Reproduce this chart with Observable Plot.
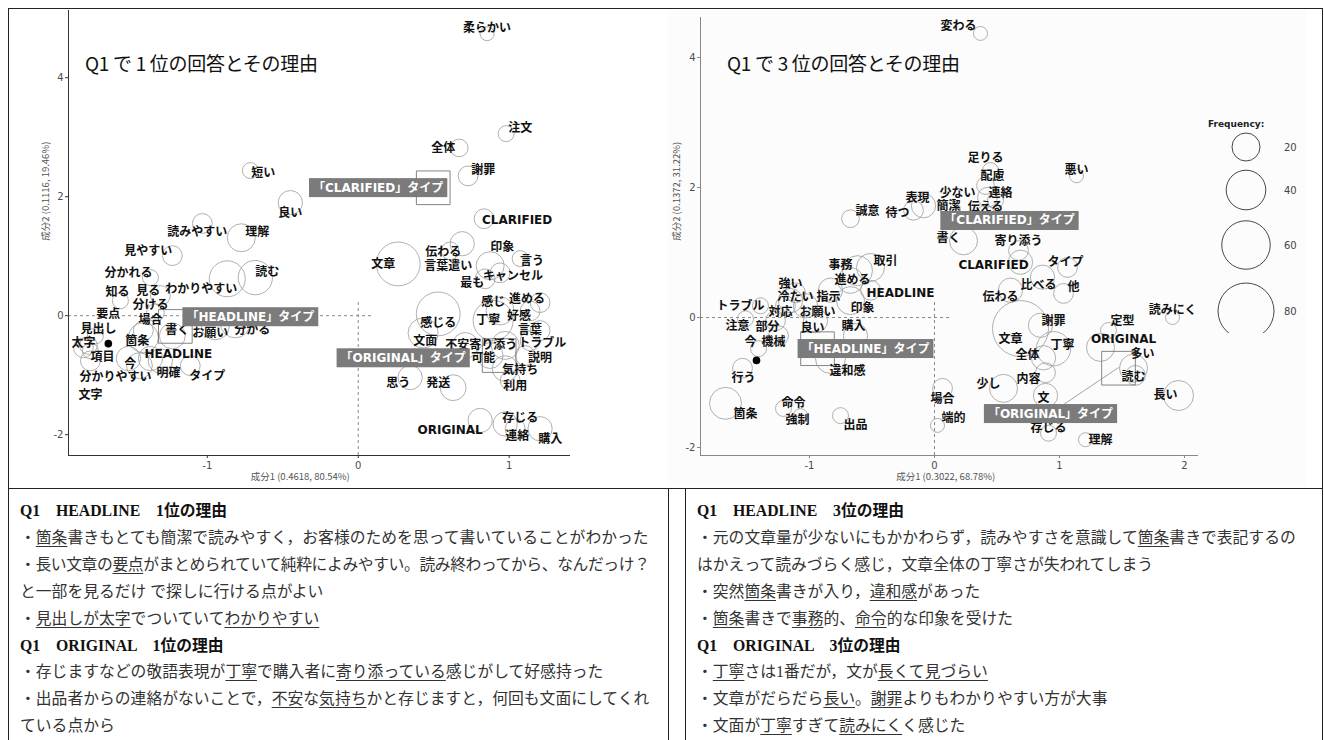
<!DOCTYPE html>
<html><head><meta charset="utf-8">
<script src="https://cdn.jsdelivr.net/npm/d3@7"></script>
<script src="https://cdn.jsdelivr.net/npm/@observablehq/plot@0.6"></script>
<style>
body{margin:0;background:#fff;}
#page{position:relative;width:1324px;height:740px;overflow:hidden;font-family:'Noto Sans CJK JP',sans-serif;background:#fff;}
#topbox{position:absolute;left:8px;top:8px;width:1315px;height:481px;border:1.5px solid #222;box-sizing:border-box;}
#rightbg{position:absolute;left:668px;top:10px;width:638px;height:477px;background:#fcfcfc;}
.chart{position:absolute;top:8px;}
.title{position:absolute;top:49px;font-size:19px;color:#111;white-space:nowrap;letter-spacing:-0.3px;}
.tbox{position:absolute;top:488px;height:260px;border:1.5px solid #222;box-sizing:border-box;padding:9px 0 0 11px;
  font-family:'Liberation Serif','Noto Sans CJK JP',serif;font-size:15.8px;line-height:26.9px;color:#333;white-space:nowrap;}
.tbox b{font-weight:bold;color:#111;}
.tbox u{text-decoration:underline;text-decoration-thickness:1px;text-underline-offset:3px;}
</style></head>
<body><div id="page">
<div id="rightbg"></div>
<div id="topbox"></div>
<div id="left" class="chart" style="left:8px"></div>
<div id="right" class="chart" style="left:668px"></div>
<div class="title" style="left:85px">Q1 で 1 位の回答とその理由</div>
<div class="title" style="left:727px">Q1 で 3 位の回答とその理由</div>
<div class="tbox" style="left:8px;width:661px">
<div><b>Q1　HEADLINE　1位の理由</b></div>
<div>・<u>箇条</u>書きもとても簡潔で読みやすく，お客様のためを思って書いていることがわかった</div>
<div style="letter-spacing:-0.4px">・長い文章の<u>要点</u>がまとめられていて純粋によみやすい。読み終わってから、なんだっけ？</div>
<div>と一部を見るだけ で探しに行ける点がよい</div>
<div>・<u>見出しが太字</u>でついていて<u>わかりやすい</u></div>
<div><b>Q1　ORIGINAL　1位の理由</b></div>
<div>・存じますなどの敬語表現が<u>丁寧</u>で購入者に<u>寄り添っている</u>感じがして好感持った</div>
<div>・出品者からの連絡がないことで，<u>不安</u>な<u>気持ち</u>かと存じますと，何回も文面にしてくれ</div>
<div>ている点から</div>
</div>
<div class="tbox" style="left:685px;width:638px">
<div><b>Q1　HEADLINE　3位の理由</b></div>
<div>・元の文章量が少ないにもかかわらず，読みやすさを意識して<u>箇条</u>書きで表記するの</div>
<div>はかえって読みづらく感じ，文章全体の丁寧さが失われてしまう</div>
<div>・突然<u>箇条</u>書きが入り，<u>違和感</u>があった</div>
<div>・<u>箇条</u>書きで<u>事務</u>的、<u>命令</u>的な印象を受けた</div>
<div><b>Q1　ORIGINAL　3位の理由</b></div>
<div>・<u>丁寧</u>さは1番だが，文が<u>長くて見づらい</u></div>
<div>・文章がだらだら<u>長い</u>。<u>謝罪</u>よりもわかりやすい方が大事</div>
<div>・文面が<u>丁寧</u>すぎて<u>読みにく</u>く感じた</div>
</div>
</div>
<script>
// ---------- Left chart (Q1 1位) ----------
const leftWords = ["柔らかい","注文","全体","謝罪","CLARIFIED","印象","短い","良い","読みやすい","理解","見やすい","読む","わかりやすい","分かれる","知る","見る","分ける","要点","場合","見出し","書く","お願い","分かる","太字","箇条","項目","HEADLINE","今","分かりやすい","明確","タイプ","文字",
 "文章","伝わる","言葉遣い","言う","キャンセル","最も","感じる","感じ","進める","丁寧","好感","言葉","文面","不安","寄り添う","トラブル","説明","可能","気持ち","利用","思う","発送","ORIGINAL","存じる","連絡","購入"];
const leftX = [0.854,0.980,0.669,0.728,0.834,0.689,-0.715,-0.450,-1.033,-0.775,-1.232,-0.682,-0.868,-1.377,-1.576,-1.311,-1.344,-1.742,-1.424,-1.788,-1.232,-0.947,-0.815,-1.821,-1.424,-1.775,-1.377,-1.523,-1.450,-1.311,-1.113,-1.775,
 0.265,0.609,0.874,1.073,0.940,0.841,0.530,0.940,1.205,0.894,1.139,1.205,0.430,0.709,0.974,1.139,1.106,0.874,0.974,1.007,0.344,0.629,0.808,0.974,1.040,1.205];
const leftY = [4.74,3.06,2.82,2.35,1.63,1.21,2.44,1.90,1.55,1.31,1.01,0.64,0.62,0.64,0.25,0.34,0.05,-0.34,-0.25,-0.50,-0.34,-0.17,-0.12,-0.54,-0.37,-0.59,-0.72,-0.72,-0.84,-0.76,-0.84,-0.76,
 0.87,1.09,0.84,0.96,0.72,0.62,0.03,0.08,0.22,-0.08,0.08,-0.25,-0.29,-0.50,-0.50,-0.42,-0.67,-0.67,-0.89,-1.09,-1.04,-1.21,-1.76,-1.82,-1.90,-1.90];
const leftFreq = [5,6.5,8,10,10,15,6.5,15,10,20,10,30,33,6.5,6.5,10,8,6.5,10,8,17,20,23,10,23,6.5,15,15,17,15,10,10,
 49,8,20,6.5,10,10,49,20,10,41,10,10,23,17,20,10,10,17,17,10,15,17,15,15,10,15];
const leftLabelX = [0.854,1.073,0.563,0.828,1.053,0.954,-0.629,-0.450,-1.066,-0.669,-1.391,-0.603,-1.040,-1.523,-1.596,-1.391,-1.377,-1.656,-1.377,-1.722,-1.199,-0.980,-0.702,-1.821,-1.464,-1.695,-1.192,-1.510,-1.609,-1.258,-1.000,-1.775,
 0.166,0.563,0.596,1.152,1.026,0.755,0.530,0.894,1.119,0.861,1.066,1.139,0.444,0.656,0.894,1.219,1.205,0.828,1.073,1.040,0.265,0.530,0.609,1.073,1.053,1.272];
const leftLabelY = [4.84,3.16,2.81,2.45,1.60,1.16,2.40,1.73,1.41,1.41,1.09,0.74,0.44,0.72,0.39,0.42,0.17,0.02,-0.08,-0.22,-0.25,-0.30,-0.24,-0.47,-0.42,-0.69,-0.64,-0.82,-1.04,-0.97,-1.01,-1.33,
 0.86,1.06,0.84,0.91,0.67,0.55,-0.12,0.22,0.27,-0.08,0.00,-0.24,-0.42,-0.50,-0.50,-0.47,-0.71,-0.72,-0.92,-1.18,-1.14,-1.14,-1.92,-1.73,-2.02,-2.08];
const leftCallText = ["「CLARIFIED」タイプ","「HEADLINE」タイプ","「ORIGINAL」タイプ"];
const leftCallX = [0.132,-0.715,0.298];
const leftCallY = [2.15,-0.02,-0.71];
const leftSquareX = [0.497,-1.212,0.934];
const leftSquareY = [2.15,-0.18,-0.67];
const leftDotX = [-1.656];
const leftDotY = [-0.47];

// ---------- Right chart (Q1 3位) ----------
const rightWords = ["変わる","足りる","配慮","少ない","連絡","表現","簡潔","伝える","待つ","誠意","悪い","書く","寄り添う","CLARIFIED","タイプ","比べる","他","伝わる","読みにく","謝罪","定型","文章","ORIGINAL","丁寧","全体","多い","読む","内容","少し","長い","文","存じる","理解","場合","端的","出品","命令","強制","箇条","行う","違和感","今","機械","注意","部分","良い","購入","トラブル","対応","お願い","印象","強い","冷たい","指示","HEADLINE","事務","進める","取引"];
const rightX = [0.368,0.448,0.408,0.424,0.488,-0.088,0.128,0.408,-0.168,-0.672,1.136,0.232,0.672,0.688,1.064,0.864,1.032,0.608,1.904,0.848,1.392,0.688,1.328,0.952,0.872,1.592,1.608,0.888,0.552,1.952,0.888,0.912,1.208,0.064,0.024,-0.752,-1.208,-1.072,-1.672,-1.536,-0.832,-1.408,-1.248,-1.512,-1.272,-0.952,-0.632,-1.392,-1.192,-1.032,-0.672,-1.112,-1.152,-0.832,-0.512,-0.616,-0.672,-0.512];
const rightY = [4.37,2.26,2.03,1.85,1.80,1.72,1.65,1.57,1.65,1.52,2.18,1.18,1.03,0.85,0.77,0.62,0.37,0.42,0.00,-0.12,-0.20,-0.17,-0.46,-0.48,-0.62,-0.78,-0.89,-0.85,-1.09,-1.20,-1.20,-1.78,-1.88,-1.09,-1.66,-1.51,-1.40,-1.51,-1.32,-0.78,-0.63,-0.48,-0.28,-0.02,-0.05,-0.05,-0.28,0.18,0.18,0.18,0.26,0.38,0.26,0.42,0.42,0.72,0.57,0.77];
const rightFreq = [5,6.5,8,10,6.5,15,10,10,10,8,5,20,10,15,10,15,10,15,5,15,6.5,80,20,30,15,20,10,10,20,23,15,6.5,5,10,5,6.5,6.5,5,26,10,23,6.5,10,6.5,10,15,15,6.5,10,15,20,10,15,15,10,23,17,20];
const rightLabelX = [0.192,0.408,0.464,0.184,0.528,-0.136,0.112,0.408,-0.296,-0.536,1.136,0.112,0.672,0.472,1.048,0.832,1.112,0.528,1.904,0.952,1.504,0.608,1.512,1.024,0.744,1.664,1.592,0.752,0.432,1.848,0.872,0.912,1.328,0.064,0.152,-0.632,-1.128,-1.096,-1.512,-1.528,-0.696,-1.472,-1.288,-1.576,-1.336,-0.976,-0.648,-1.552,-1.232,-0.936,-0.576,-1.152,-1.112,-0.848,-0.272,-0.752,-0.656,-0.392];
const rightLabelY = [4.48,2.45,2.18,1.92,1.92,1.83,1.72,1.69,1.60,1.63,2.26,1.22,1.18,0.80,0.85,0.49,0.46,0.32,0.11,-0.05,-0.06,-0.34,-0.34,-0.43,-0.58,-0.57,-0.92,-0.95,-1.02,-1.20,-1.24,-1.71,-1.89,-1.25,-1.55,-1.65,-1.32,-1.58,-1.48,-0.94,-0.82,-0.38,-0.38,-0.14,-0.15,-0.17,-0.14,0.18,0.08,0.08,0.14,0.52,0.31,0.31,0.37,0.80,0.58,0.86];
const rightCallText = ["「CLARIFIED」タイプ","「HEADLINE」タイプ","「ORIGINAL」タイプ"];
const rightCallX = [0.60,-0.552,0.928];
const rightCallY = [1.49,-0.48,-1.48];
const rightSquareX = [-0.936,1.472];
const rightSquareY = [-0.48,-0.78];
const rightDotX = [-1.424];
const rightDotY = [-0.66];
const rightLinkFrom = [1.024,-1.35];
const rightLinkTo = [1.472,-0.77];
const legendValues = [20,40,60,80];

const labelFont = "'DejaVu Sans', 'Noto Sans CJK JP', sans-serif";

function zipWords(w, x, y, f, lx, ly) {
  return w.map((t, i) => ({w: t, x: x[i], y: y[i], f: f[i], lx: lx[i], ly: ly[i]}));
}
function addCalloutBoxes(svg, texts) {
  svg.querySelectorAll("text").forEach(t => {
    if (!texts.includes(t.textContent)) return;
    const b = t.getBBox();
    const r = document.createElementNS("http://www.w3.org/2000/svg", "rect");
    const h = 19;
    r.setAttribute("x", b.x - 4);
    r.setAttribute("y", b.y + b.height / 2 - h / 2);
    r.setAttribute("width", b.width + 8);
    r.setAttribute("height", h);
    r.setAttribute("fill", "#7b7b7b");
    if (t.getAttribute("transform")) r.setAttribute("transform", t.getAttribute("transform"));
    t.parentNode.insertBefore(r, t);
  });
}
const fmt = d => String(d);

function makeChart(o) {
  const words = zipWords(o.words, o.x, o.y, o.f, o.lx, o.ly);
  const calls = o.callText.map((t, i) => ({t, x: o.callX[i], y: o.callY[i]}));
  const squares = o.sqX.map((x, i) => ({x, y: o.sqY[i]}));
  const dots = o.dotX.map((x, i) => ({x, y: o.dotY[i]}));
  const marks = [
    Plot.ruleY([0], {x1: o.xd[0], x2: o.hEnd, stroke: "#8a8a8a", strokeDasharray: "3,3"}),
    Plot.ruleX([0], {y1: o.yd[0], y2: o.vEnd, stroke: "#8a8a8a", strokeDasharray: "3,3"}),
    Plot.frame({anchor: "left", stroke: o.axisColor}),
    Plot.frame({anchor: "bottom", stroke: o.axisColor}),
    Plot.axisX({ticks: o.xt, tickSize: 3, tickPadding: 3, label: null, tickFormat: fmt, stroke: o.axisColor, fontFamily: "'DejaVu Sans', sans-serif", fontSize: 10}),
    Plot.axisY({ticks: o.yt, tickSize: 3, tickPadding: 2, label: null, tickFormat: fmt, stroke: o.axisColor, fontFamily: "'DejaVu Sans', sans-serif", fontSize: 10}),
    Plot.dot(words, {x: "x", y: "y", r: "f", stroke: "#9c9c9c", strokeWidth: 0.8, fill: "none"}),
    Plot.dot(squares, {x: "x", y: "y", symbol: "square", r: 19, stroke: "#777", strokeWidth: 0.9, fill: "none"}),
    Plot.dot(dots, {x: "x", y: "y", r: 3.8, fill: "#000"}),
    Plot.text(words, {x: "lx", y: "ly", text: "w", fontWeight: "bold", fontSize: 12, fontFamily: labelFont, fill: "#111"})
  ];
  if (o.link) {
    marks.push(Plot.link([{x1: o.link[0][0], y1: o.link[0][1], x2: o.link[1][0], y2: o.link[1][1]}],
      {x1: "x1", y1: "y1", x2: "x2", y2: "y2", stroke: "#999", strokeWidth: 0.9}));
  }
  marks.push(
    Plot.text(calls, {x: "x", y: "y", text: "t", fill: "#fff", fontWeight: "bold", fontSize: 12, fontFamily: labelFont}),
    Plot.text([{t: o.xLabel, x: o.xLabelAt}], {x: "x", text: "t", frameAnchor: "bottom", dy: 24, fill: "#555", fontSize: 9.5}),
    Plot.text([{t: o.yLabel, y: o.yLabelAt}], {y: "y", text: "t", frameAnchor: "left", dx: o.yLabelDx, rotate: -90, fill: "#555", fontSize: 9.5})
  );
  return Plot.plot({
    width: o.width, height: 479,
    marginLeft: o.ml, marginRight: o.mr, marginTop: o.mt, marginBottom: 32,
    x: {domain: o.xd}, y: {domain: o.yd},
    r: {type: "sqrt", domain: [0, 80], range: [0, 28]},
    style: {fontFamily: "'Noto Sans CJK JP', sans-serif", fontSize: "10px", color: "#4d4d4d", background: "transparent", overflow: "visible"},
    marks
  });
}

const leftChart = makeChart({
  words: leftWords, x: leftX, y: leftY, f: leftFreq, lx: leftLabelX, ly: leftLabelY,
  callText: leftCallText, callX: leftCallX, callY: leftCallY,
  sqX: leftSquareX, sqY: leftSquareY, dotX: leftDotX, dotY: leftDotY,
  width: 660, ml: 60, mr: 99, mt: 2,
  xd: [-1.92, 1.40], yd: [-2.35, 5.13], hEnd: 0.093, vEnd: 0.22,
  xt: [-1, 0, 1], yt: [-2, 0, 2, 4], axisColor: "#333",
  xLabel: "成分1 (0.4618, 80.54%)", xLabelAt: -0.384,
  yLabel: "成分2 (0.1116, 19.46%)", yLabelAt: 1.26, yLabelDx: -23
});
document.getElementById("left").append(leftChart);
addCalloutBoxes(leftChart, leftCallText);

const rightChart = makeChart({
  words: rightWords, x: rightX, y: rightY, f: rightFreq, lx: rightLabelX, ly: rightLabelY,
  callText: rightCallText, callX: rightCallX, callY: rightCallY,
  sqX: rightSquareX, sqY: rightSquareY, dotX: rightDotX, dotY: rightDotY,
  link: [rightLinkFrom, rightLinkTo],
  width: 654, ml: 32, mr: 125, mt: 9,
  xd: [-1.872, 2.104], yd: [-2.123, 4.615], hEnd: 0.128, vEnd: 0.23,
  xt: [-1, 0, 1, 2], yt: [-2, 0, 2, 4], axisColor: "#888",
  xLabel: "成分1 (0.3022, 68.78%)", xLabelAt: 0.09,
  yLabel: "成分2 (0.1372, 31.22%)", yLabelAt: 1.18, yLabelDx: -24
});
document.getElementById("right").append(rightChart);
addCalloutBoxes(rightChart, rightCallText);

// Frequency legend (size legend built from the chart's r scale)
const rScale = rightChart.scale("r");
const leg = d3.select("#right").append("svg")
  .attr("width", 120).attr("height", 220)
  .style("position", "absolute").style("left", "530px").style("top", "105px")
  .style("font-family", "'DejaVu Sans', sans-serif");
leg.append("text").attr("x", 10).attr("y", 14).attr("font-size", 9).attr("font-weight", "bold").attr("fill", "#222").text("Frequency:");
const legCy = [34, 77, 132, 198];
legendValues.forEach((v, i) => {
  leg.append("circle").attr("cx", 48).attr("cy", legCy[i]).attr("r", rScale.apply(v))
    .attr("fill", "none").attr("stroke", "#333").attr("stroke-width", 0.9);
  leg.append("text").attr("x", 86).attr("y", legCy[i] + 4).attr("font-size", 10).attr("fill", "#444").text(String(v));
});
</script>
</body></html>
